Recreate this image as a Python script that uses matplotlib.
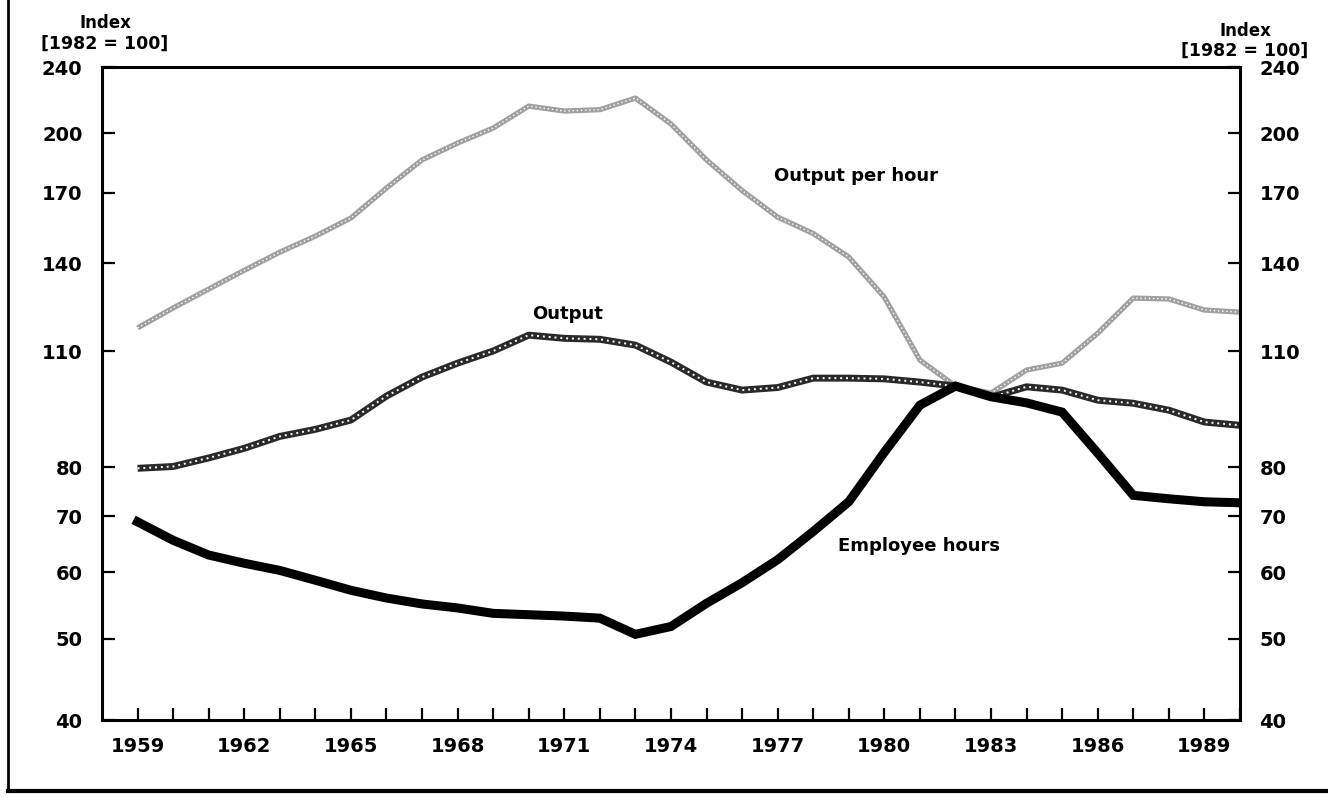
import matplotlib
matplotlib.use('Agg')
import matplotlib.pyplot as plt
from matplotlib.lines import Line2D
from matplotlib.ticker import FixedLocator, NullLocator, NullFormatter

years = list(range(1959, 1991))

output_per_hour = [117.3, 123.9, 130.5, 137.4, 144.4, 150.9, 158.6, 172.2, 186.0, 194.8,
                   203.0, 215.6, 212.7, 213.5, 220.4, 205.3, 186.0, 171.0, 159.0, 152.0,
                   142.5, 127.6, 107.4, 100.0, 98.1, 104.5, 106.5, 115.6, 127.3, 127.0,
                   123.2, 122.5]

output = [79.8, 80.2, 82.1, 84.3, 87.1, 88.8, 91.1, 97.3, 102.5, 106.5,
          110.1, 115.0, 114.0, 113.7, 111.9, 106.8, 101.1, 98.9, 99.6, 102.2,
          102.2, 102.0, 101.1, 100.0, 97.0, 99.8, 98.9, 96.2, 95.4, 93.6,
          90.6, 89.8]

employee_hours = [68.9, 65.5, 62.9, 61.5, 60.3, 58.7, 57.1, 55.9, 55.0, 54.4,
                  53.6, 53.4, 53.2, 52.9, 50.6, 51.7, 55.1, 58.3, 62.1, 67.1,
                  72.8, 83.4, 94.9, 100.0, 97.1, 95.5, 93.1, 83.2, 74.1, 73.4,
                  72.8, 72.6]

y_ticks = [40, 50, 60, 70, 80, 110, 140, 170, 200, 240]
x_labels = list(range(1959, 1990, 3))

plt.rcParams['font.family'] = 'DejaVu Sans'
plt.rcParams['font.weight'] = 'bold'

fig = plt.figure(figsize=(13.28, 7.97), dpi=100)
ax = fig.add_axes([0.0768, 0.0966, 0.8569, 0.8193])

ax.plot(years, output_per_hour, color='#a0a0a0', lw=3.8, solid_capstyle='butt')
ax.plot(years, output_per_hour, color='white', lw=1.0, ls=(0, (1, 2)))
ax.plot(years, output, color='#2a2a2a', lw=5, solid_capstyle='butt')
ax.plot(years, output, color='white', lw=1.4, ls=(0, (1, 2)))
ax.plot(years, employee_hours, color='black', lw=6.5, solid_joinstyle='miter')

ax.set_yscale('log')
ax.set_ylim(40, 240)
ax.set_xlim(1958, 1990)
ax.yaxis.set_major_locator(FixedLocator(y_ticks))
ax.yaxis.set_minor_locator(NullLocator())
ax.yaxis.set_minor_formatter(NullFormatter())
ax.set_yticklabels([str(v) for v in y_ticks])
ax.set_xticks(years)
ax.set_xticklabels([str(y) if y in x_labels else '' for y in years])

ax.tick_params(axis='both', direction='in', length=9, width=1.6, labelsize=14)
ax.tick_params(axis='y', which='both', left=True, right=True, labelleft=True,
               labelright=True, pad=14)
ax.tick_params(axis='y', labelright=True, right=True)
ax.yaxis.set_tick_params(which='major', pad=14)
for t in ax.yaxis.get_major_ticks():
    t.label2.set_x(1.0)
ax.tick_params(axis='x', pad=12)
for lab in ax.get_xticklabels() + ax.get_yticklabels():
    lab.set_fontweight('bold')
for side in ax.spines.values():
    side.set_linewidth(2.2)

ax.text(1970.1, 122, 'Output', fontsize=13, fontweight='bold', va='center', ha='left')
ax.text(1976.9, 178, 'Output per hour', fontsize=13, fontweight='bold', va='center', ha='left')
ax.text(1978.7, 64.5, 'Employee hours', fontsize=13, fontweight='bold', va='center', ha='left')

fig.text(105 / 1328, 1 - 23 / 797, 'Index', fontsize=12, fontweight='bold', ha='center', va='center')
fig.text(105 / 1328, 1 - 44 / 797, '[1982 = 100]', fontsize=12.5, fontweight='bold', ha='center', va='center')
fig.text(1245 / 1328, 1 - 31 / 797, 'Index', fontsize=12, fontweight='bold', ha='center', va='center')
fig.text(1245 / 1328, 1 - 51 / 797, '[1982 = 100]', fontsize=12.5, fontweight='bold', ha='center', va='center')

# page border (left and bottom)
fig.add_artist(Line2D([8 / 1328, 8 / 1328], [1, 1 - 791 / 797], color='black', lw=2))
fig.add_artist(Line2D([8 / 1328, 1], [1 - 791 / 797, 1 - 791 / 797], color='black', lw=3))

fig.savefig('out.png', dpi=100)
